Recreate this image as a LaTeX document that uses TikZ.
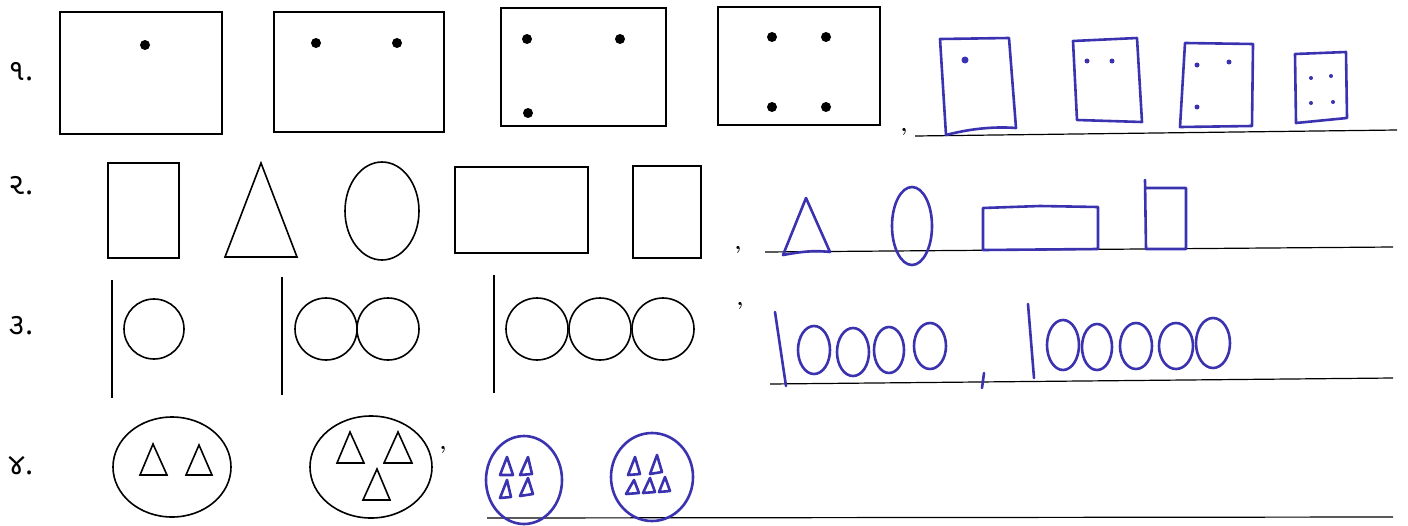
\documentclass[tikz,border=0pt]{standalone}
\usepackage{fontspec}
\newfontfamily\gujfont[Script=Gujarati]{Noto Sans Gujarati UI}
\definecolor{handblue}{RGB}{58,50,175}
\begin{document}
\begin{tikzpicture}[x=0.5pt,y=-0.5pt,
  prt/.style={line width=0.8pt},
  hand/.style={handblue,line width=1.3pt,line join=round,line cap=round},
  ruled/.style={line width=0.6pt},
  numlbl/.style={font=\gujfont\fontsize{15}{17}\selectfont,anchor=west,inner sep=0pt}]
\useasboundingbox (0,0) rectangle (1408,525);
% row numbers
\node[numlbl] (q1) at (8,72) {૧.};
\node[numlbl] (q2) at (8,186) {૨.};
\node[numlbl] (q3) at (8,326) {૩.};
\node[numlbl] (q4) at (8,466) {૪.};
% row 1
\draw[prt] (60,12) rectangle (222,134);
\fill (145,45) circle (5);
\draw[prt] (274,12) rectangle (444,132);
\fill (316,43) circle (5); \fill (397,43) circle (5);
\draw[prt] (501,8) rectangle (666,126);
\fill (527,39) circle (5); \fill (620,39) circle (5); \fill (528,113) circle (5);
\draw[prt] (718,7) rectangle (880,125);
\fill (772,37) circle (5); \fill (826,37) circle (5);
\fill (772,107) circle (5); \fill (826,107) circle (5);
\node[font=\bfseries] (c1) at (904,132) {,};
\draw[ruled] (915,136) -- (1397,130);
\draw[hand] (940,39) -- (1009,38) -- (1016,128) .. controls (990,126) and (965,130) .. (946,135) -- cycle;
\fill[handblue] (965,60) circle (3.5);
\draw[hand] (1073,41) -- (1137,38) -- (1142,122) -- (1077,120) -- cycle;
\fill[handblue] (1087,61) circle (2.5); \fill[handblue] (1112,61) circle (2.5);
\draw[hand] (1185,43) -- (1253,44) -- (1252,126) -- (1180,127) -- cycle;
\fill[handblue] (1197,65) circle (2.5); \fill[handblue] (1229,62) circle (2.5);
\fill[handblue] (1197,107) circle (2.5);
\draw[hand] (1295,54) -- (1346,52) -- (1347,118) -- (1296,123) -- cycle;
\fill[handblue] (1311,78) circle (2); \fill[handblue] (1331,76) circle (2);
\fill[handblue] (1311,103) circle (2); \fill[handblue] (1333,102) circle (2);
% row 2
\draw[prt] (108,163) rectangle (179,258);
\draw[prt] (261,163) -- (297,257) -- (225,257) -- cycle;
\draw[prt] (382,211) ellipse [x radius=37,y radius=49];
\draw[prt] (455,167) rectangle (588,253);
\draw[prt] (633,166) rectangle (701,258);
\node[font=\bfseries] (c2) at (738,250) {,};
\draw[ruled] (765,252) -- (1393,247);
\draw[hand] (806,198) -- (830,252) .. controls (812,250) and (800,252) .. (783,255) -- cycle;
\draw[hand] (912,226) ellipse [x radius=20,y radius=39];
\draw[hand] (983,208) -- (1040,206) -- (1098,207) -- (1098,249) -- (983,250) -- cycle;
\draw[hand] (1145,180) -- (1146,249) -- (1186,249) -- (1186,188) -- (1146,188);
% row 3
\draw[prt] (112,280) -- (112,398);
\draw[prt] (154,329) circle (30);
\draw[prt] (282,277) -- (282,395);
\draw[prt] (326,329) circle (31); \draw[prt] (388,329) circle (31);
\draw[prt] (494,275) -- (494,393);
\draw[prt] (537,329) circle (31); \draw[prt] (600,329) circle (31);
\draw[prt] (663,329) circle (31);
\node[font=\bfseries] (c3) at (740,306) {,};
\draw[ruled] (770,384) -- (1393,378);
\draw[hand] (775,312) -- (786,386);
\draw[hand] (814,350) ellipse [x radius=16,y radius=24];
\draw[hand] (853,352) ellipse [x radius=16,y radius=24];
\draw[hand] (889,350) ellipse [x radius=15,y radius=23];
\draw[hand] (930,346) ellipse [x radius=16,y radius=23];
\draw[hand] (984,373) -- (982,388);
\draw[hand] (1028,304) -- (1034,378);
\draw[hand] (1063,345) ellipse [x radius=16,y radius=25];
\draw[hand] (1097,347) ellipse [x radius=15,y radius=23];
\draw[hand] (1136,346) ellipse [x radius=16,y radius=23];
\draw[hand] (1176,346) ellipse [x radius=17,y radius=23];
\draw[hand] (1213,343) ellipse [x radius=17,y radius=25];
% row 4
\draw[prt] (172,467) ellipse [x radius=59,y radius=50];
\draw[prt] (153,444) -- (167,475) -- (140,475) -- cycle;
\draw[prt] (199,445) -- (212,475) -- (186,475) -- cycle;
\draw[prt] (371,467) ellipse [x radius=61,y radius=51];
\draw[prt] (350,432) -- (364,463) -- (337,463) -- cycle;
\draw[prt] (398,432) -- (412,463) -- (384,463) -- cycle;
\draw[prt] (377,469) -- (390,500) -- (363,500) -- cycle;
\node[font=\bfseries] (c4) at (443,450) {,};
\draw[ruled] (487,518) -- (1393,517);
\draw[hand] (524,480) ellipse [x radius=38,y radius=44];
\draw[hand] (507,457) -- (513,475) -- (500,475) -- cycle;
\draw[hand] (528,457) -- (532,474) -- (520,475) -- cycle;
\draw[hand] (507,480) -- (511,497) -- (500,498) -- cycle;
\draw[hand] (528,478) -- (533,494) -- (520,496) -- cycle;
\draw[hand] (652,477) ellipse [x radius=41,y radius=44];
\draw[hand] (635,457) -- (640,474) -- (628,475) -- cycle;
\draw[hand] (657,455) -- (662,472) -- (650,474) -- cycle;
\draw[hand] (634,480) -- (639,493) -- (626,494) -- cycle;
\draw[hand] (650,478) -- (655,492) -- (643,493) -- cycle;
\draw[hand] (665,477) -- (670,491) -- (659,492) -- cycle;
\end{tikzpicture}
\end{document}
